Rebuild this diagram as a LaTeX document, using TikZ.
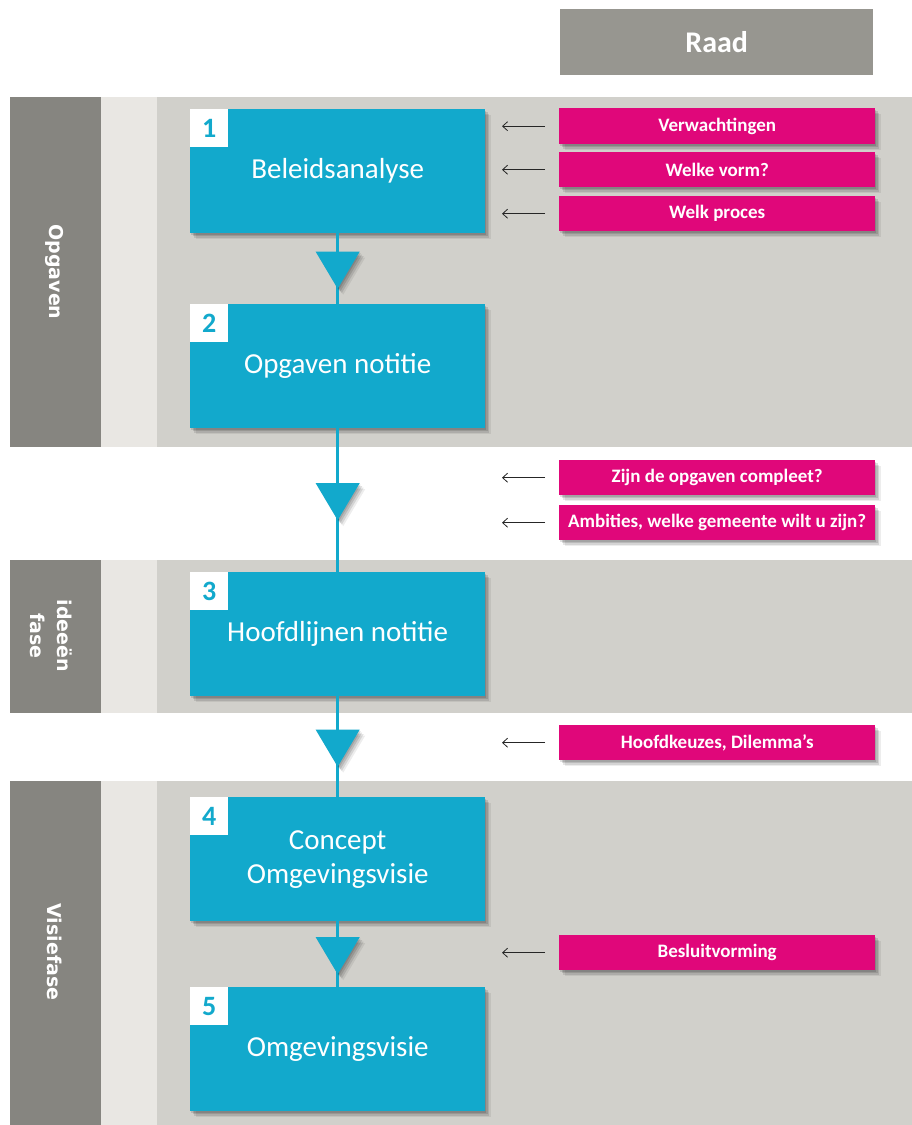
\documentclass[tikz,border=0pt]{standalone}
\usepackage{fontspec}
\setmainfont{Carlito}
\newfontfamily\tabfont{DejaVu Sans}
\usetikzlibrary{shadows,calc,arrows.meta}
\definecolor{flowblue}{HTML}{12A9CC}
\definecolor{raadpink}{HTML}{E0077A}
\definecolor{tabgray}{HTML}{868580}
\definecolor{stripgray}{HTML}{E9E7E3}
\definecolor{bandgray}{HTML}{D1D0CB}
\definecolor{raadgray}{HTML}{979690}
\begin{document}
\begin{tikzpicture}[x=1pt,y=-1pt,
  myshadow/.style={
    drop shadow={shadow xshift=1pt,shadow yshift=-1.5pt,opacity=0.12,fill=black},
    drop shadow={shadow xshift=2.5pt,shadow yshift=-3pt,opacity=0.12,fill=black},
    drop shadow={shadow xshift=4pt,shadow yshift=-4.5pt,opacity=0.1,fill=black},
    drop shadow={shadow xshift=5.5pt,shadow yshift=-6pt,opacity=0.07,fill=black}},
  stepbox/.style={fill=flowblue,minimum width=295pt,minimum height=124pt,text=white,
    font=\fontsize{29}{34}\selectfont,align=center,inner sep=0pt,anchor=north west,myshadow},
  numbox/.style={fill=white,minimum size=38pt,inner sep=0pt,text=flowblue,
    font=\bfseries\fontsize{28}{28}\selectfont,anchor=north west},
  pinkbox/.style={fill=raadpink,minimum width=316pt,minimum height=35pt,text=white,
    font=\bfseries\fontsize{19}{21}\selectfont,inner sep=0pt,anchor=north west,myshadow},
  raadbox/.style={fill=raadgray,minimum width=313pt,minimum height=66pt,text=white,
    font=\bfseries\fontsize{30}{30}\selectfont,inner sep=0pt,anchor=north west},
  tablabel/.style={text=white,font=\tabfont\bfseries\fontsize{19}{27}\selectfont,align=center,rotate=-90},
  flowline/.style={draw=flowblue,line width=3.5pt},
  flowtri/.style={fill=flowblue,myshadow},
  raadarrow/.style={draw=black!85,line width=0.8pt,-{Straight Barb[length=5pt,width=9pt]}}
]
\useasboundingbox (0,0) rectangle (912,1125);
\fill[white] (0,0) rectangle (912,1125);
% bands
\fill[bandgray] (157,97) rectangle (912,447);
\fill[stripgray] (101,97) rectangle (157,447);
\fill[tabgray] (10,97) rectangle (101,447);
\fill[bandgray] (157,560) rectangle (912,713);
\fill[stripgray] (101,560) rectangle (157,713);
\fill[tabgray] (10,560) rectangle (101,713);
\fill[bandgray] (157,781) rectangle (912,1125);
\fill[stripgray] (101,781) rectangle (157,1125);
\fill[tabgray] (10,781) rectangle (101,1125);
% tab labels
\node[tablabel] (l1) at (55,272) {Opgaven};
\node[tablabel] (l2) at (51,636) {ideeën\\fase};
\node[tablabel] (l3) at (55,952) {Visiefase};
% raad header
\node[raadbox] (raad) at (560,9) {Raad};
% step boxes
\node[stepbox] (b1) at (190,109) {Beleidsanalyse};
\node[stepbox] (b2) at (190,304) {Opgaven notitie};
\node[stepbox] (b3) at (190,572) {Hoofdlijnen notitie};
\node[stepbox] (b4) at (190,797) {Concept\\Omgevingsvisie};
\node[stepbox] (b5) at (190,987) {Omgevingsvisie};
\node[numbox] (n1) at (b1.north west) {1};
\node[numbox] (n2) at (b2.north west) {2};
\node[numbox] (n3) at (b3.north west) {3};
\node[numbox] (n4) at (b4.north west) {4};
\node[numbox] (n5) at (b5.north west) {5};
% connectors
\draw[flowline] (b1.south) -- (b2.north);
\draw[flowline] (b2.south) -- (b3.north);
\draw[flowline] (b3.south) -- (b4.north);
\draw[flowline] (b4.south) -- (b5.north);
\coordinate (m1) at ($(b1.south)!0.5!(b2.north)$);
\coordinate (m2) at ($(b2.south)!0.5!(b3.north)$);
\coordinate (m3) at ($(b3.south)!0.5!(b4.north)$);
\coordinate (m4) at ($(b4.south)!0.5!(b5.north)$);
\foreach \m in {m1,m2,m3,m4}{
  \fill[flowtri] ($(\m)+(-22,-17)$) -- ($(\m)+(22,-17)$) -- ($(\m)+(0,20)$) -- cycle;
}
% raad inputs
\node[pinkbox,minimum height=36pt] (p1) at (559,108) {Verwachtingen};
\node[pinkbox] (p2) at (559,152) {Welke vorm?};
\node[pinkbox] (p3) at (559,196) {Welk proces};
\node[pinkbox] (p4) at (559,460) {Zijn de opgaven compleet?};
\node[pinkbox] (p5) at (559,505) {Ambities, welke gemeente wilt u zijn?};
\node[pinkbox] (p6) at (559,725) {Hoofdkeuzes, Dilemma’s};
\node[pinkbox] (p7) at (559,935) {Besluitvorming};
\foreach \p in {p1,p2,p3,p4,p5,p6,p7}{
  \coordinate (a\p) at ([xshift=-57pt]\p.west);
  \draw[raadarrow] ([xshift=-14pt]\p.west) -- (a\p);
}
\end{tikzpicture}
\end{document}
